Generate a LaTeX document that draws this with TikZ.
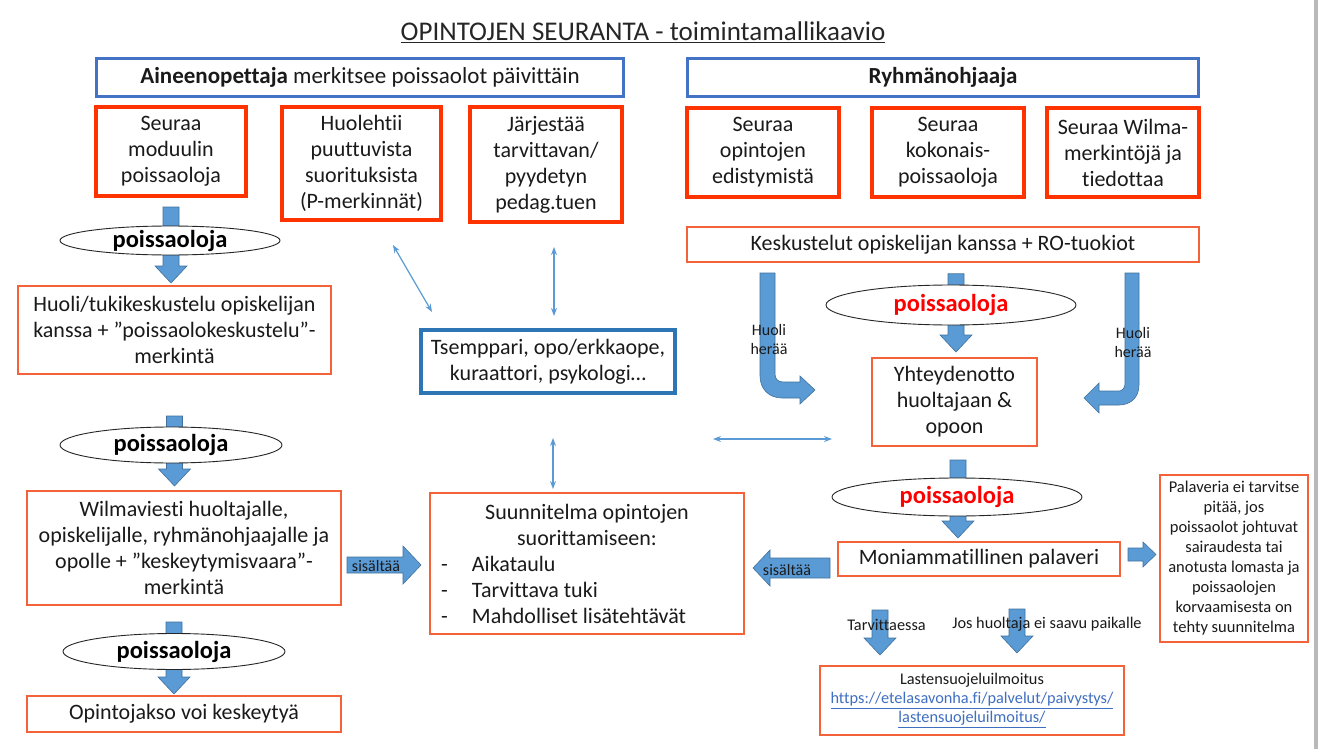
\documentclass[tikz,border=0pt]{standalone}
\usepackage{fontspec}
\setmainfont[Ligatures=NoCommon]{Carlito}
\usetikzlibrary{shapes.geometric,arrows.meta,calc,backgrounds}
\definecolor{redthick}{HTML}{FF3300}
\definecolor{redthin}{HTML}{F4623A}
\definecolor{blueA}{HTML}{4472C4}
\definecolor{blueT}{HTML}{2E75B6}
\definecolor{arrfill}{HTML}{5B9BD5}
\definecolor{arredge}{HTML}{41719C}
\definecolor{linkc}{HTML}{3F6FC0}
\definecolor{txt}{HTML}{1A1A1A}
\definecolor{redtxt}{HTML}{FF0000}
\newcommand{\bdown}[2]{\path[barrow] let \p1=(#1), \p2=(#2) in (\x1-8pt,\y1) -- (\x1+8pt,\y1) -- (\x1+8pt,\y2+17pt) -- (\x1+16pt,\y2+17pt) -- (\x1,\y2) -- (\x1-16pt,\y2+17pt) -- (\x1-8pt,\y2+17pt) -- cycle;}
\newcommand{\bright}[5]{\path[barrow] let \p1=(#1), \p2=(#2) in (\x1,\y1+#3) -- (\x2-#5,\y1+#3) -- (\x2-#5,\y1+#4) -- (\x2,\y1) -- (\x2-#5,\y1-#4) -- (\x2-#5,\y1-#3) -- (\x1,\y1-#3) -- cycle;}
\newcommand{\bleft}[5]{\path[barrow] let \p1=(#1), \p2=(#2) in (\x1,\y1+#3) -- (\x2+#5,\y1+#3) -- (\x2+#5,\y1+#4) -- (\x2,\y1) -- (\x2+#5,\y1-#4) -- (\x2+#5,\y1-#3) -- (\x1,\y1-#3) -- cycle;}
\begin{document}
\begin{tikzpicture}[x=1pt,y=-1pt,
  base/.style={inner sep=0pt, align=center, text=txt, font=\fontsize{22}{26}\selectfont},
  tbox/.style={base, draw=redthick, line width=4pt},
  rbox/.style={base, draw=redthin, line width=2pt},
  bbox/.style={base, draw=blueA, line width=3.5pt, font=\fontsize{23}{27}\selectfont},
  tsbox/.style={base, draw=blueT, line width=4.5pt},
  smallf/.style={font=\fontsize{16.5}{20}\selectfont},
  ell/.style={ellipse, draw=black!85, line width=0.9pt, fill=white, inner sep=0pt},
  elltxt/.style={font=\bfseries\fontsize{24.5}{25}\selectfont, text=black, inner sep=0pt},
  elltxtr/.style={elltxt, text=redtxt},
  barrow/.style={fill=arrfill, draw=arredge, line width=0.6pt},
  dbl/.style={draw=arrfill, line width=1.2pt, {Stealth[length=8pt,width=6pt]}-{Stealth[length=8pt,width=6pt]}},
  lbl/.style={inner sep=0pt, align=center, text=txt, font=\fontsize{16}{19}\selectfont},
  lbl16/.style={inner sep=0pt, text=txt, font=\fontsize{16.3}{19}\selectfont}]
\useasboundingbox (0,0) rectangle (1323,749);
\begin{pgfonlayer}{background}
\fill[white] (0,0) rectangle (1323,749);
\end{pgfonlayer}
\draw[line width=4pt, gray!55] (1316,0) -- (1316,749);

% title
\node[inner sep=0pt, text=black!85, font=\fontsize{27}{30}\selectfont] (title) at (643,32) {\underline{OPINTOJEN SEURANTA - toimintamallikaavio}};

% header boxes
\node[bbox, minimum width=527pt, minimum height=38pt] (aine) at (360,77.5) {\textbf{Aineenopettaja} merkitsee poissaolot päivittäin};
\node[bbox, minimum width=511pt, minimum height=38pt] (ryhma) at (943,77.5) {\textbf{Ryhmänohjaaja}};

% thick red boxes
\node[tbox, minimum width=150pt, minimum height=89pt] (s1) at (171,151.5) {Seuraa\\moduulin\\poissaoloja};
\node[tbox, minimum width=159pt, minimum height=113pt] (s2) at (361.5,163.5) {Huolehtii\\puuttuvista\\suorituksista\\(P-merkinnät)};
\node[tbox, minimum width=152pt, minimum height=115pt] (s3) at (546,164.5) {Järjestää\\tarvittavan/\\pyydetyn\\pedag.tuen};
\node[tbox, minimum width=152pt, minimum height=89pt] (r1) at (763,152.5) {Seuraa\\opintojen\\edistymistä};
\node[tbox, minimum width=152pt, minimum height=89pt] (r2) at (948,152.5) {Seuraa\\kokonais-\\poissaoloja};
\node[tbox, minimum width=152pt, minimum height=89pt] (r3) at (1123,152.5) {Seuraa Wilma-\\merkintöjä ja\\tiedottaa};

% thin boxes
\node[rbox, line width=1.5pt, minimum width=512pt, minimum height=35pt] (kesk) at (943,244.5) {Keskustelut opiskelijan kanssa + RO-tuokiot};
\node[rbox, minimum width=313pt, minimum height=88pt] (huoli) at (174.5,330) {Huoli/tukikeskustelu opiskelijan\\kanssa + ”poissaolokeskustelu”-\\merkintä};
\node[tsbox, minimum width=254pt, minimum height=63pt] (tsemp) at (548,361.5) {Tsemppari, opo/erkkaope,\\kuraattori, psykologi…};
\node[rbox, minimum width=165pt, minimum height=88pt] (yht) at (954.5,402) {Yhteydenotto\\huoltajaan \&\\opoon};
\node[rbox, minimum width=314pt, minimum height=114pt] (wilma) at (184,548) {Wilmaviesti huoltajalle,\\opiskelijalle, ryhmänohjaajalle ja\\opolle + ”keskeytymisvaara”-\\merkintä};
\node[rbox, minimum width=314pt, minimum height=141pt] (suun) at (587,563.5) {\parbox{300pt}{\centering Suunnitelma opintojen\\suorittamiseen:\par\raggedright
\hspace*{4pt}\makebox[31pt][l]{-}Aikataulu\\
\hspace*{4pt}\makebox[31pt][l]{-}Tarvittava tuki\\
\hspace*{4pt}\makebox[31pt][l]{-}Mahdolliset lisätehtävät}};
\node[rbox, minimum width=282pt, minimum height=34pt] (moni) at (979,559) {Moniammatillinen palaveri};
\node[rbox, smallf, minimum width=148pt, minimum height=167pt] (pal) at (1234,558.5) {Palaveria ei tarvitse\\pitää, jos\\poissaolot johtuvat\\sairaudesta tai\\anotusta lomasta ja\\poissaolojen\\korvaamisesta on\\tehty suunnitelma};
\node[rbox, minimum width=314pt, minimum height=36pt] (opj) at (184,714) {Opintojakso voi keskeytyä};
\node[rbox, font=\fontsize{16.3}{19}\selectfont, minimum width=304pt, minimum height=69pt] (last) at (972,700.5) {Lastensuojeluilmoitus\\\textcolor{linkc}{\underline{https://etelasavonha.fi/palvelut/paivystys/}}\\\textcolor{linkc}{\underline{lastensuojeluilmoitus/}}};

% block arrows (background layer, above the white page)
\begin{pgfonlayer}{background}
\coordinate (a1s) at ($(s1.south)+(0,9)$);
\bdown{a1s}{$(a1s |- huoli.north)+(0,-2)$}
\coordinate (a2s) at ($(huoli.south)+(0,41)$);
\bdown{a2s}{$(a2s |- wilma.north)+(0,-4)$}
\coordinate (a3s) at ($(wilma.south)+(-10,16)$);
\bdown{a3s}{$(a3s |- opj.north)+(0,-1)$}
\coordinate (a5s) at ($(kesk.south)+(13,11)$);
\bdown{a5s}{$(a5s |- yht.north)+(0,-5)$}
\coordinate (a4s) at ($(yht.south)+(3.5,13)$);
\bdown{a4s}{$(a4s |- moni.north)+(0,-3)$}
\coordinate (a6s) at ($(moni.south)+(-99,33)$);
\bdown{a6s}{$(a6s |- last.north)+(0,-10)$}
\coordinate (a7s) at ($(moni.south)+(38,32)$);
\bdown{a7s}{$(a7s |- last.north)+(0,-12)$}
% sisaltaa arrows
\coordinate (b1s) at ($(wilma.east)+(5,17)$);
\bright{b1s}{$(b1s -| suun.west)+(-8,0)$}{8pt}{19pt}{18pt}
\coordinate (b2s) at ($(moni.west)+(-7,9)$);
\bleft{b2s}{$(b2s -| suun.east)+(8,0)$}{10pt}{18pt}{17pt}
\coordinate (b3s) at ($(moni.east)+(7,-4.5)$);
\bright{b3s}{$(b3s -| pal.west)+(-3,0)$}{6.5pt}{12.5pt}{13pt}
% bent arrows "Huoli heraa"
\path[barrow] (760,273) -- (760,376) .. controls (760,389) and (769,398) .. (782,398) -- (800,398) -- (800,404) -- (815,390) -- (800,376) -- (800,382) -- (783,382) .. controls (778,382) and (775,379) .. (775,374) -- (775,273) -- cycle;
\path[barrow] (1139,273) -- (1139,385) .. controls (1139,397) and (1131,405) .. (1119,405) -- (1099,405) -- (1099,413) -- (1084,398) -- (1099,383) -- (1099,391) -- (1119,391) .. controls (1122,391) and (1125,388) .. (1125,384) -- (1125,273) -- cycle;
\end{pgfonlayer}

% ellipses
\node[ell, minimum width=220pt, minimum height=29pt, label={[elltxt]center:poissaoloja}] (e1) at (170,240.5) {};
\node[ell, minimum width=222pt, minimum height=36pt, label={[elltxt]center:poissaoloja}] (e2) at (171,445) {};
\node[ell, minimum width=222pt, minimum height=36pt, label={[elltxt]center:poissaoloja}] (e3) at (174,651.5) {};
\node[ell, minimum width=250pt, minimum height=40pt, label={[elltxtr]center:poissaoloja}] (e5) at (951,305) {};
\node[ell, minimum width=250pt, minimum height=38pt, label={[elltxtr]center:poissaoloja}] (e4) at (957,497) {};

% thin double arrows
\coordinate (d1a) at (393,245); \coordinate (d1b) at (432,312);
\draw[dbl] (d1a) -- (d1b);
\coordinate (d2a) at (554,247); \coordinate (d2b) at (554,316);
\draw[dbl] (d2a) -- (d2b);
\coordinate (d3a) at (553,438); \coordinate (d3b) at (553,489);
\draw[dbl] (d3a) -- (d3b);
\coordinate (d4a) at (713,439); \coordinate (d4b) at (832,439);
\draw[dbl] (d4a) -- (d4b);

% labels
\node[lbl] (sis1) at (376,566) {sisältää};
\node[lbl] (sis2) at (787,570) {sisältää};
\node[lbl] (hh1) at (769,340) {Huoli\\herää};
\node[lbl] (hh2) at (1133,343) {Huoli\\herää};
\node[lbl16] (tarv) at (886.5,625) {Tarvittaessa};
\node[lbl16] (jos) at (1047,624) {Jos huoltaja ei saavu paikalle};
\end{tikzpicture}
\end{document}
